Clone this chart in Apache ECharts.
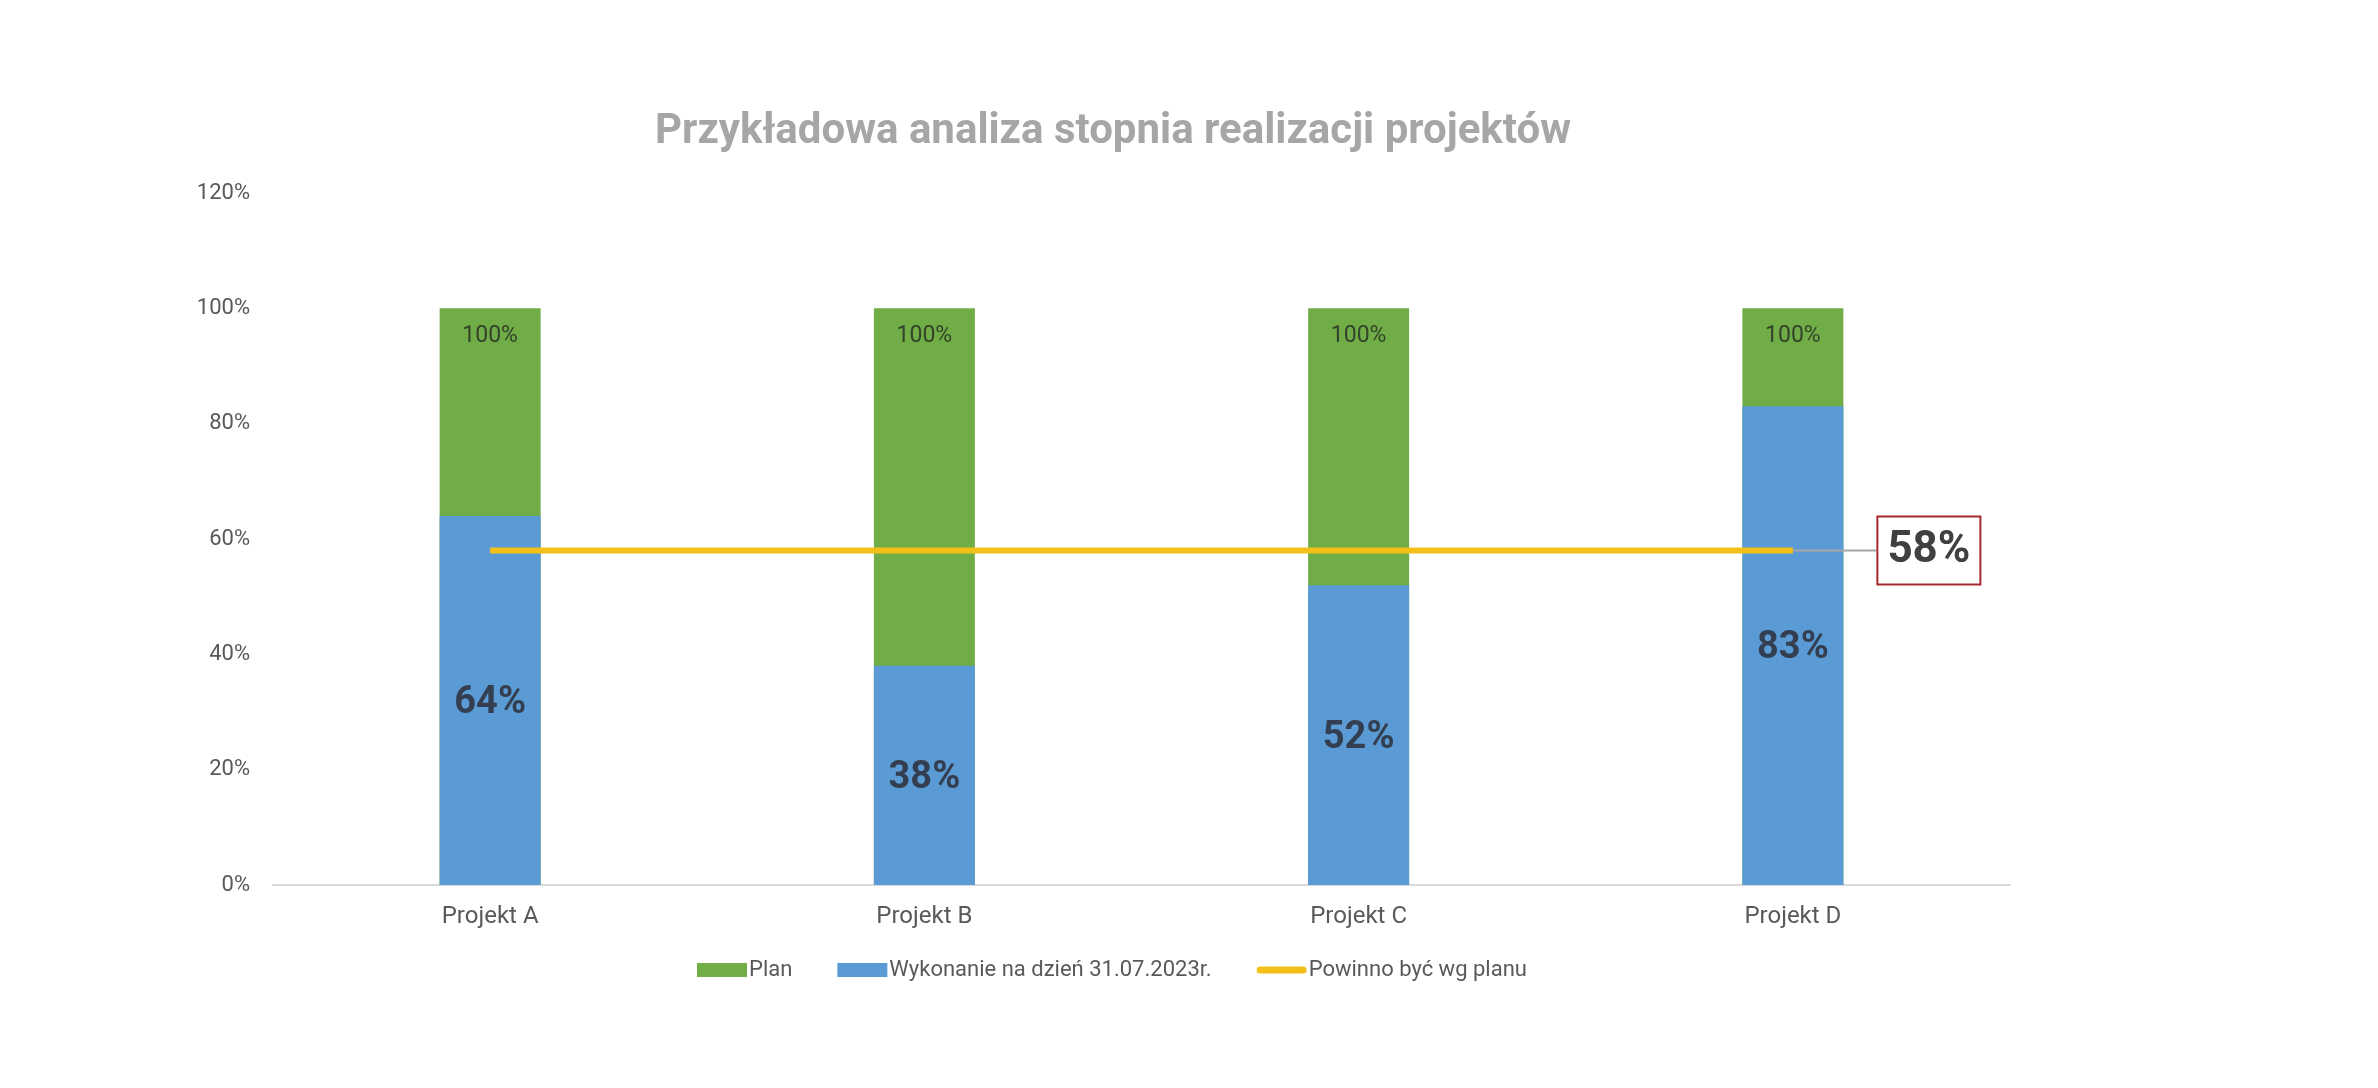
<!DOCTYPE html>
<html lang="pl">
<head>
    <meta charset="UTF-8">
    <title>Przykładowa analiza stopnia realizacji projektów</title>
    <script src="https://cdn.jsdelivr.net/npm/echarts@6/dist/echarts.min.js"></script>
    <style>
        html, body { margin: 0; padding: 0; background: #fff; }
    </style>
</head>
<body>
    <div id="main" style="width: 2378px; height: 1088px;"></div>
    <script>
        // dane
        var projekty = ['Projekt A', 'Projekt B', 'Projekt C', 'Projekt D'];
        var plan = [1, 1, 1, 1];
        var wykonanie = [0.64, 0.38, 0.52, 0.83];
        var powinno = [0.58, 0.58, 0.58, 0.58];
        var yTicks = [0, 0.2, 0.4, 0.6, 0.8, 1.0, 1.2];

        function pct(v) {
            return Math.round(v * 100) + '%';
        }

        var myChart = echarts.init(document.getElementById('main'));

        // etykieta tylko przy ostatnim punkcie linii
        var lineData = powinno.map(function (v, i) {
            if (i === powinno.length - 1) {
                return {
                    value: v,
                    label: {
                        show: true,
                        position: 'right',
                        distance: 0,
                        formatter: function (p) { return pct(p.value); },
                        fontFamily: 'Roboto',
                        fontSize: 44,
                        fontWeight: 'bold',
                        color: '#404040',
                        backgroundColor: '#fff',
                        borderColor: '#A5282C',
                        borderWidth: 2,
                        padding: [13, 9, 9, 9]
                    }
                };
            }
            return v;
        });

        var option = {
            animation: false,
            backgroundColor: '#fff',
            title: {
                text: 'Przykładowa analiza stopnia realizacji projektów',
                left: 1108,
                top: 106,
                textAlign: 'center',
                textStyle: {
                    fontFamily: 'Roboto',
                    fontSize: 42,
                    fontWeight: 'bold',
                    color: '#A6A6A6'
                }
            },
            legend: {
                left: 692,
                top: 954,
                itemWidth: 50,
                itemHeight: 14,
                itemGap: 45,
                textStyle: {
                    fontFamily: 'Roboto',
                    fontSize: 22,
                    color: '#595959',
                    padding: [0, 0, 0, -3]
                },
                data: [
                    { name: 'Plan', icon: 'rect' },
                    { name: 'Wykonanie na dzień 31.07.2023r.', icon: 'rect' },
                    {
                        name: 'Powinno być wg planu',
                        icon: 'path://M4,0 h48 a4,4 0 0 1 0,8 h-48 a4,4 0 0 1 0,-8z'
                    }
                ]
            },
            grid: {
                left: 273,
                right: 368,
                top: 193,
                bottom: 203,
                containLabel: false
            },
            xAxis: {
                type: 'category',
                data: projekty,
                axisTick: { show: false },
                axisLine: { lineStyle: { color: '#D9D9D9', width: 2 } },
                axisLabel: {
                    margin: 20,
                    fontFamily: 'Roboto',
                    fontSize: 24,
                    color: '#595959'
                }
            },
            yAxis: {
                type: 'value',
                min: yTicks[0],
                max: yTicks[yTicks.length - 1],
                interval: 0.2,
                splitLine: { show: false },
                axisLine: { show: false },
                axisTick: { show: false },
                axisLabel: {
                    margin: 23,
                    fontFamily: 'Roboto',
                    fontSize: 22,
                    color: '#595959',
                    formatter: function (v) { return pct(v); }
                }
            },
            series: [
                {
                    name: 'Plan',
                    type: 'bar',
                    data: plan,
                    barWidth: 101,
                    barGap: '-100%',
                    itemStyle: { color: '#70AD47' },
                    label: {
                        show: true,
                        position: 'insideTop',
                        distance: 16,
                        fontFamily: 'Roboto',
                        fontSize: 23,
                        color: '#33432A',
                        formatter: function (p) { return pct(p.value); }
                    }
                },
                {
                    name: 'Wykonanie na dzień 31.07.2023r.',
                    type: 'bar',
                    data: wykonanie,
                    barWidth: 101,
                    itemStyle: { color: '#5B9BD5' },
                    label: {
                        show: true,
                        position: 'inside',
                        offset: [0, 3],
                        fontFamily: 'Roboto',
                        fontSize: 38,
                        fontWeight: 'bold',
                        color: '#333F50',
                        formatter: function (p) { return pct(p.value); }
                    }
                },
                {
                    name: 'Powinno być wg planu',
                    type: 'line',
                    data: lineData,
                    symbol: 'circle',
                    symbolSize: 1,
                    showSymbol: true,
                    itemStyle: { color: '#F3C01A' },
                    lineStyle: { color: '#F3C01A', width: 6 },
                    labelLayout: { dx: 85 },
                    labelLine: {
                        show: true,
                        lineStyle: { color: '#A6A6A6', width: 2 }
                    },
                    z: 5
                }
            ]
        };
        myChart.setOption(option);
    </script>
</body>
</html>
